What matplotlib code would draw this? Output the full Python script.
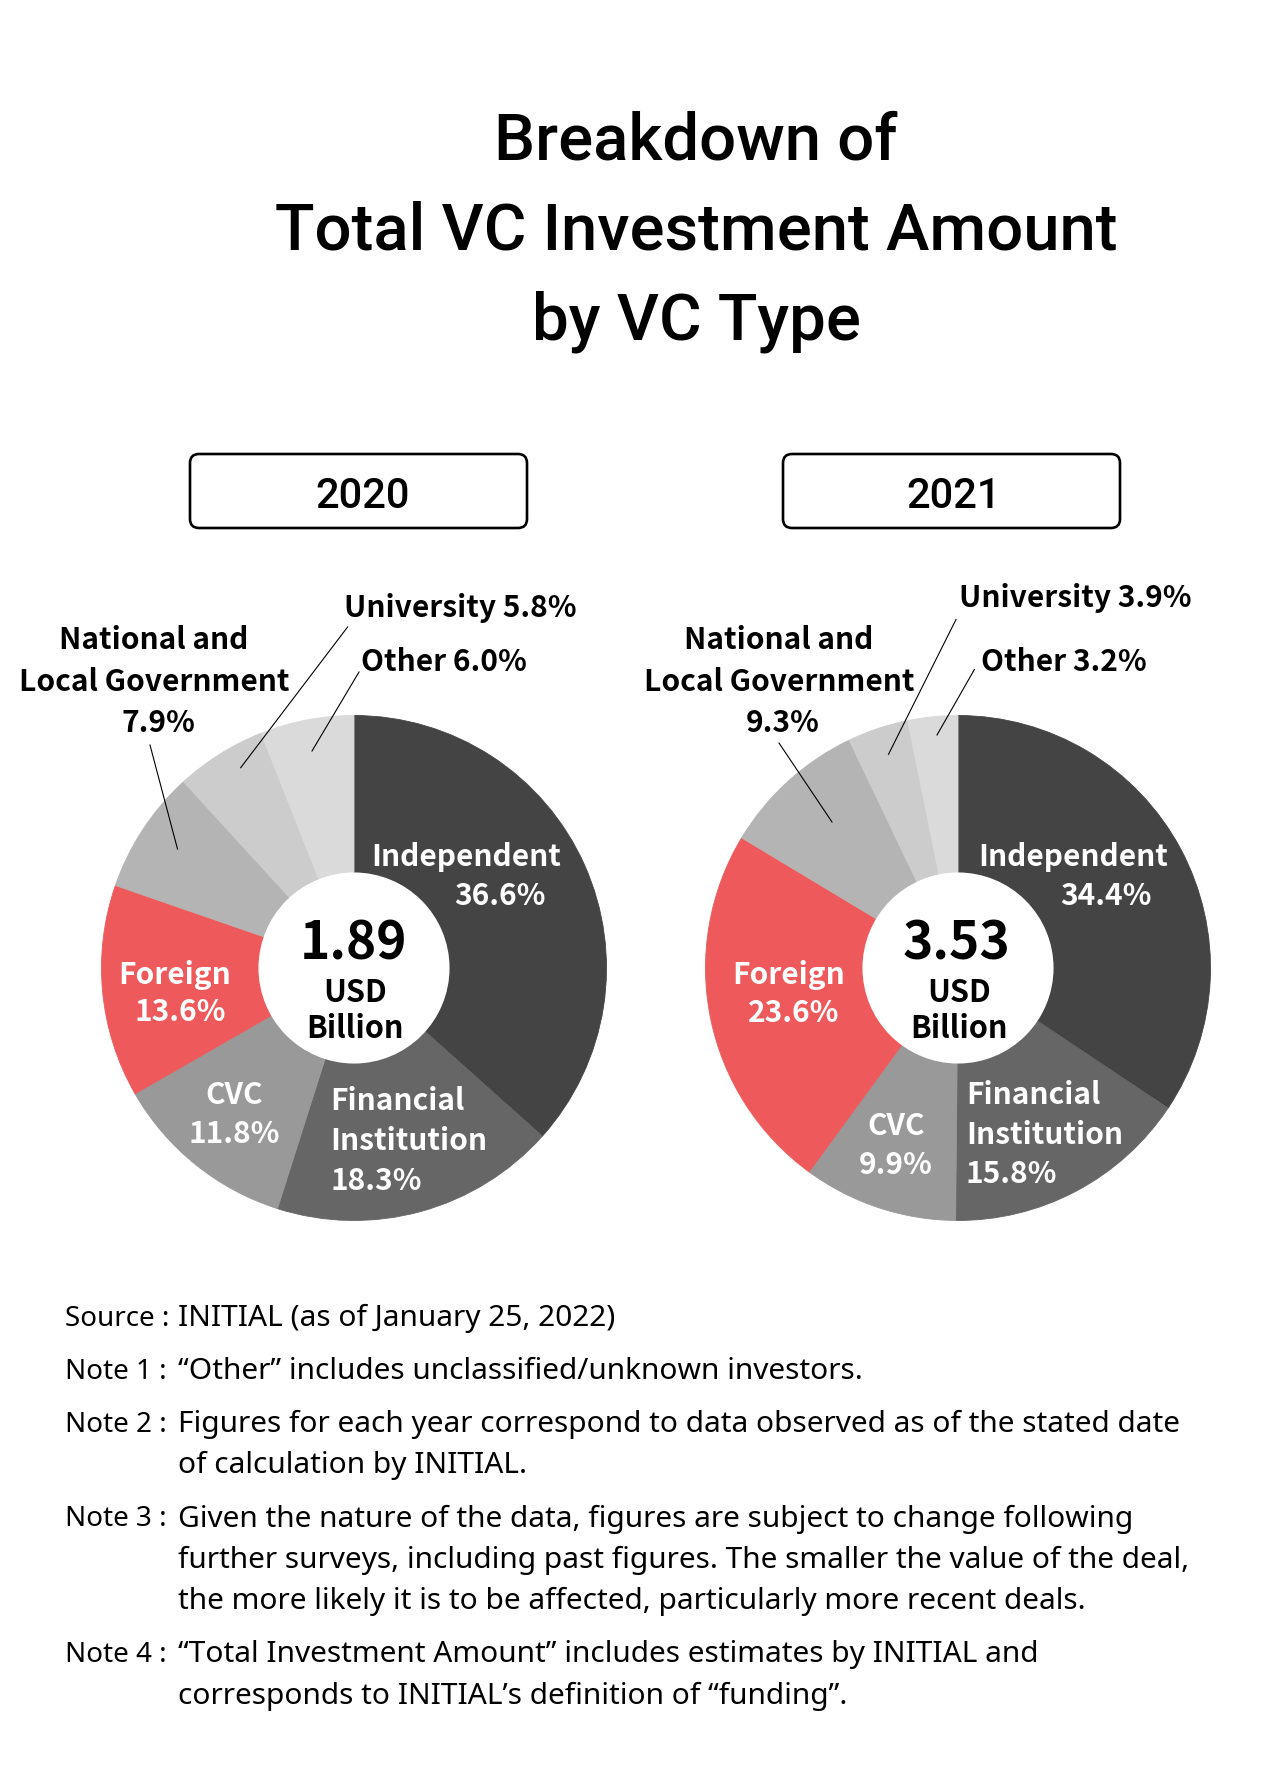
import numpy as np
import matplotlib
matplotlib.use("Agg")
from matplotlib import pyplot as plt
from matplotlib.patches import FancyBboxPatch, Circle

# data
categories = ["Independent", "Financial Institution", "CVC", "Foreign",
              "National and Local Government", "University", "Other"]
share_2020 = [36.6, 18.3, 11.8, 13.6, 7.9, 5.8, 6.0]
share_2021 = [34.4, 15.8, 9.9, 23.6, 9.3, 3.9, 3.2]
years = ["2020", "2021"]
totals = ["1.89", "3.53"]
colors = ["#444444", "#666666", "#999999", "#ee5a5b", "#b4b4b4", "#cccccc", "#dadada"]

title_lines = ["Breakdown of", "Total VC Investment Amount", "by VC Type"]
notes = [
    ("Source :", ["INITIAL (as of January 25, 2022)"]),
    ("Note 1 :", ["\u201cOther\u201d includes unclassified/unknown investors."]),
    ("Note 2 :", ["Figures for each year correspond to data observed as of the stated date",
                  "of calculation by INITIAL."]),
    ("Note 3 :", ["Given the nature of the data, figures are subject to change following",
                  "further surveys, including past figures. The smaller the value of the deal,",
                  "the more likely it is to be affected, particularly more recent deals."]),
    ("Note 4 :", ["\u201cTotal Investment Amount\u201d includes estimates by INITIAL and",
                  "corresponds to INITIAL\u2019s definition of \u201cfunding\u201d."]),
]

W, H = 1281, 1790
JP = ["Noto Sans CJK JP", "DejaVu Sans"]
NOTE_FONT = ["Noto Sans", "DejaVu Sans"]

# label layout (pixel coords, y from top): lines, x, baselines, align, colour, leader
layouts = {
    "2020": [
        (["Independent", "{v}"], [466.6, 500], [865.6, 905], "center", "white", None),
        (["Financial", "Institution", "{v}"], [330.5] * 3, [1110, 1150.4, 1189.7], "left", "white", None),
        (["CVC", "{v}"], [234.6, 234.6], [1103.5, 1143], "center", "white", None),
        (["Foreign", "{v}"], [175, 180], [984, 1021], "center", "white", None),
        (["National and", "Local Government", "{v}"], [154, 154.6, 158], [649, 690.6, 732], "center", "black",
         ((150, 746), (177.5, 850))),
        (["University {v}"], [344], [617], "left", "black", ((347.6, 628), (240.7, 768.7))),
        (["Other {v}"], [361], [670.5], "left", "black", ((359, 673), (312, 752))),
    ],
    "2021": [
        (["Independent", "{v}"], [1073, 1106], [865.6, 905], "center", "white", None),
        (["Financial", "Institution", "{v}"], [965.8] * 3, [1103.5, 1143.7, 1183], "left", "white", None),
        (["CVC", "{v}"], [896, 895.4], [1134.8, 1173.6], "center", "white", None),
        (["Foreign", "{v}"], [789, 794], [984, 1022], "center", "white", None),
        (["National and", "Local Government", "{v}"], [779, 779.3, 782.7], [649, 690.6, 732], "center", "black",
         ((779, 744), (832, 823))),
        (["University {v}"], [958.9], [606.7], "left", "black", ((956, 620.5), (888.5, 755.3))),
        (["Other {v}"], [981.4], [670.5], "left", "black", ((974.4, 670.5), (937, 736))),
    ],
}


def main():
    fig = plt.figure(figsize=(W / 100, H / 100), dpi=100)
    ax = fig.add_axes([0, 0, 1, 1])

    centers = [(354, 969), (958, 969)]
    r_out, r_in = 252.5, 95.5
    for year, shares, total, c in zip(years, [share_2020, share_2021], totals, centers):
        # y axis is inverted, so start at -90 and go counterclockwise in data space
        wedges, _ = ax.pie(shares, colors=colors, startangle=-90, counterclock=True,
                           center=c, radius=r_out, normalize=True,
                           wedgeprops=dict(width=r_out - r_in, linewidth=0.6))
        for w in wedges:
            w.set_edgecolor(w.get_facecolor())
        ax.add_patch(Circle(c, r_in, facecolor="white", edgecolor="none", zorder=3))

        ax.text(c[0] - 1, 960, total, ha="center", va="baseline", fontsize=37,
                fontweight="bold", family=JP, zorder=4)
        ax.text(c[0] + 1, 1001.7, "USD", ha="center", va="baseline", fontsize=22,
                fontweight="bold", family=JP, zorder=4)
        ax.text(c[0] + 1, 1037.5, "Billion", ha="center", va="baseline", fontsize=22,
                fontweight="bold", family=JP, zorder=4)

        for v, (lines, xs, ys, ha, col, leader) in zip(shares, layouts[year]):
            for line, x, y in zip(lines, xs, ys):
                ax.text(x, y, line.format(v=f"{v:.1f}%"), ha=ha, va="baseline",
                        fontsize=21.5, fontweight="bold", color=col, family=JP, zorder=4)
            if leader is not None:
                ax.plot([leader[0][0], leader[1][0]], [leader[0][1], leader[1][1]],
                        color="black", lw=0.8, zorder=4)

    # year boxes
    for year, (x0, x1), tx in zip(years, [(190, 527), (783, 1120)], [363, 954]):
        box = FancyBboxPatch((x0, 455), x1 - x0, 74, boxstyle="round,pad=0,rounding_size=9",
                             facecolor="white", edgecolor="black", linewidth=1.9)
        ax.add_patch(box)
        ax.text(tx, 508, year, ha="center", va="baseline", fontsize=30,
                fontweight="medium", family=["Roboto", "DejaVu Sans"])

    # title
    for line, y in zip(title_lines, [159, 249.5, 339]):
        ax.text(696, y, line, ha="center", va="baseline", fontsize=47,
                fontweight="medium", family=["Roboto", "DejaVu Sans"])

    # notes
    y = 1326
    for label, lines in notes:
        ax.text(65, y, label, ha="left", va="baseline", fontsize=20, family=NOTE_FONT)
        for i, line in enumerate(lines):
            ax.text(178, y, line, ha="left", va="baseline", fontsize=21.5, family=NOTE_FONT)
            y += 41.5 if i < len(lines) - 1 else 0
        y += 53

    ax.set_xlim(0, W)
    ax.set_ylim(H, 0)
    ax.set_aspect("auto")
    ax.axis("off")
    fig.savefig("out.png", dpi=100, facecolor="white")
    plt.close(fig)


if __name__ == "__main__":
    main()
